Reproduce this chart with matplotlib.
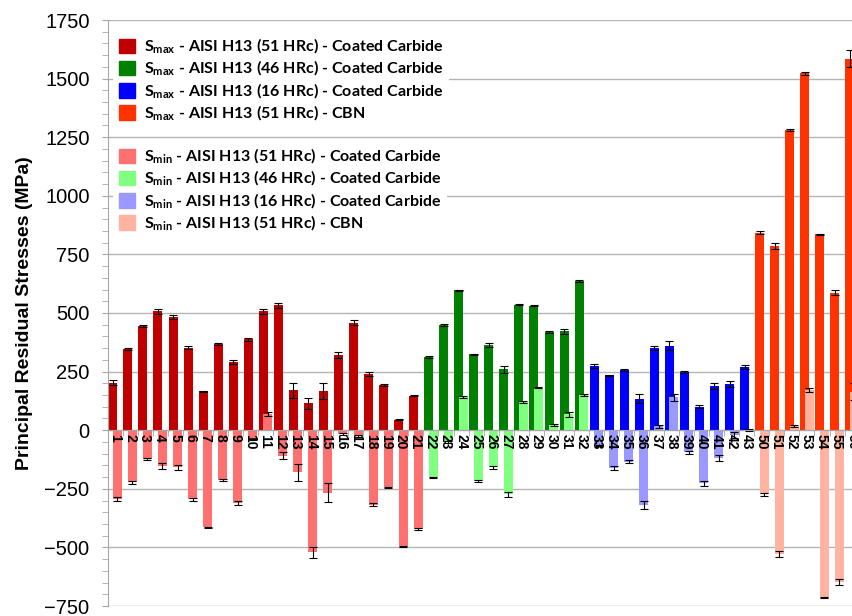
import numpy as np
import matplotlib
matplotlib.use("Agg")
import matplotlib.pyplot as plt
from matplotlib.patches import Patch
from matplotlib.ticker import MultipleLocator, FixedLocator

plt.rcParams['font.family'] = ['Liberation Sans', 'DejaVu Sans']
plt.rcParams['mathtext.fontset'] = 'custom'
plt.rcParams['mathtext.rm'] = 'Lato:bold'
plt.rcParams['mathtext.bf'] = 'Lato:bold'

# sample numbers
labels = [str(i) for i in range(1, 44)] + [str(i) for i in range(50, 57)]

# S_max per sample (MPa) and its error
s_max = [203, 347, 445, 507, 483, 352, 166, 368, 290, 388, 507, 533, 170, 114, 168, 321,
         459, 241, 192, 44, 148,
         314, 447, 597, 324, 365, 259, 536, 530, 419, 422, 638,
         273, 234, 257, 134, 351, 361, 247, 100, 189, 197, 269,
         843, 786, 1281, 1522, 836, 587, 1585]
s_max_err = [10, 5, 4, 11, 10, 6, 3, 4, 8, 7, 10, 10, 33, 25, 35, 14,
             12, 8, 3, 2, 4,
             4, 4, 2, 2, 8, 13, 4, 2, 4, 11, 4,
             8, 3, 4, 20, 9, 18, 5, 7, 12, 12, 10,
             8, 12, 3, 5, 2, 12, 35]

# S_min per sample (MPa) and its error
s_min = [-294, -223, -124, -152, -159, -294, -415, -214, -311, -40, 68, -109, -180, -521, -266, -15,
         -25, -317, -244, -496, -423,
         -200, -50, 142, -217, -159, -273, 122, 182, 23, 68, 151,
         -65, -162, -134, -318, 16, 140, -95, -226, -117, -20, 2,
         -274, -528, 18, 172, -714, -647, 165]
s_min_err = [10, 6, 5, 14, 10, 6, 4, 4, 8, 3, 8, 14, 35, 23, 39, 5,
             3, 8, 3, 2, 4,
             2, 3, 3, 3, 7, 11, 4, 2, 4, 11, 4,
             3, 8, 8, 18, 6, 15, 8, 10, 13, 12, 5,
             8, 12, 3, 8, 3, 14, 35]

# number of samples in each material / tool group
group_sizes = [21, 11, 11, 7]
group_names = ['AISI H13 (51 HRc) - Coated Carbide',
               'AISI H13 (46 HRc) - Coated Carbide',
               'AISI H13 (16 HRc) - Coated Carbide',
               'AISI H13 (51 HRc) - CBN']
max_colors = ['#C00000', '#008000', '#0000FF', '#FF3300']
min_colors = ['#FF7070', '#80FF80', '#9999FF', '#FFB3A0']

x = np.arange(len(labels))
col_max = np.repeat(max_colors, group_sizes)
col_min = np.repeat(min_colors, group_sizes)

fig = plt.figure(figsize=(8.52, 6.16), dpi=100)
ax = fig.add_axes([107.6 / 852, 10 / 616, 752 / 852, 586 / 616])

w = 0.6
off = 0.15
ax.bar(x - off, s_max, w, color=col_max, zorder=2)
ax.errorbar(x - off, s_max, yerr=s_max_err, fmt='none', ecolor='black',
            elinewidth=0.8, capsize=3, capthick=0.8, zorder=3)
ax.bar(x + off, s_min, w, color=col_min, zorder=4)
ax.errorbar(x + off, s_min, yerr=s_min_err, fmt='none', ecolor='black',
            elinewidth=0.8, capsize=3, capthick=0.8, zorder=5)

ax.set_xlim(-0.5, len(labels) - 0.5)
ax.set_ylim(-750, 1750)
ax.yaxis.set_major_locator(MultipleLocator(250))
ax.yaxis.set_minor_locator(MultipleLocator(50))
ax.grid(axis='y', color='#B4B4B4', linewidth=1.0, zorder=0)
ax.set_axisbelow(True)
# x labels sit on the zero line, in front of the bars
ax.xaxis.set_zorder(7)

for s in ['top', 'right']:
    ax.spines[s].set_visible(False)
ax.spines['left'].set_color('#A6A6A6')
ax.spines['bottom'].set_position(('data', 0))
ax.spines['bottom'].set_color('#A6A6A6')
ax.spines['bottom'].set_zorder(6)

ax.set_xticks(x)
ax.set_xticklabels(labels, rotation=-90, fontsize=10, fontweight='bold')
ax.xaxis.set_minor_locator(FixedLocator(x[:-1] + 0.5))
ax.tick_params(axis='x', which='major', length=0, pad=3)
ax.tick_params(axis='x', which='minor', length=4, color='#A6A6A6', direction='out')
ax.tick_params(axis='y', which='both', length=4, color='#A6A6A6', labelsize=14.5, pad=9)
for t in ax.get_xticklabels():
    t.set_va('top')
    t.set_ha('center')

ax.set_ylabel('Principal Residual Stresses (MPa)', fontsize=14, fontweight='bold')
ax.yaxis.set_label_coords(-0.099, 0.5)

h_max = [Patch(color=c) for c in max_colors]
h_min = [Patch(color=c) for c in min_colors]
l_max = [r'S$_{\mathbf{max}}$ - ' + n for n in group_names]
l_min = [r'S$_{\mathbf{min}}$ - ' + n for n in group_names]

leg_kw = dict(loc='upper left', frameon=True, fancybox=False, edgecolor='none',
              framealpha=1.0, handlelength=1.0, handleheight=1.0, handletextpad=0.6,
              labelspacing=0.18, borderpad=0.35, borderaxespad=0,
              prop={'family': 'Lato', 'weight': 'bold', 'size': 11.5})
leg1 = fig.legend(h_max, l_max, bbox_to_anchor=(113 / 852, 1 - 31 / 616), **leg_kw)
leg2 = fig.legend(h_min, l_min, bbox_to_anchor=(113 / 852, 1 - 141 / 616), **leg_kw)

fig.savefig('out.png', dpi=100)
